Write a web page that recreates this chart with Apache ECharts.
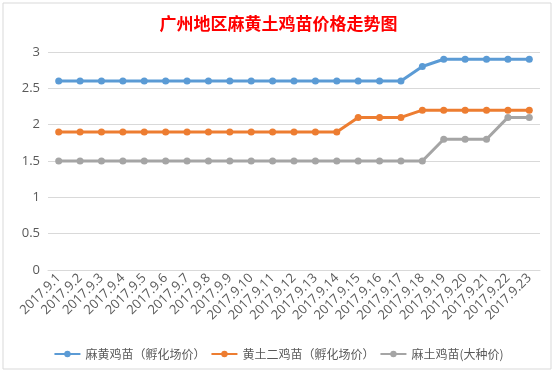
<!DOCTYPE html>
<html><head><meta charset="utf-8">
<script src="https://cdn.jsdelivr.net/npm/echarts@6/dist/echarts.min.js"></script>
<style>html,body{margin:0;padding:0;background:#fff}#c{width:557px;height:377px}</style>
</head><body><div id="c"></div>
<script>
const categories = ['2017.9.1','2017.9.2','2017.9.3','2017.9.4','2017.9.5','2017.9.6','2017.9.7','2017.9.8','2017.9.9','2017.9.10','2017.9.11','2017.9.12','2017.9.13','2017.9.14','2017.9.15','2017.9.16','2017.9.17','2017.9.18','2017.9.19','2017.9.20','2017.9.21','2017.9.22','2017.9.23'];
const mahuang = [2.6,2.6,2.6,2.6,2.6,2.6,2.6,2.6,2.6,2.6,2.6,2.6,2.6,2.6,2.6,2.6,2.6,2.8,2.9,2.9,2.9,2.9,2.9];
const huangtu = [1.9,1.9,1.9,1.9,1.9,1.9,1.9,1.9,1.9,1.9,1.9,1.9,1.9,1.9,2.1,2.1,2.1,2.2,2.2,2.2,2.2,2.2,2.2];
const matu = [1.5,1.5,1.5,1.5,1.5,1.5,1.5,1.5,1.5,1.5,1.5,1.5,1.5,1.5,1.5,1.5,1.5,1.5,1.8,1.8,1.8,2.1,2.1];
const seriesNames = ['麻黄鸡苗（孵化场价）','黄土二鸡苗（孵化场价）','麻土鸡苗(大种价)'];
const colors = ['#5B9BD5','#ED7D31','#A5A5A5'];
const chart = echarts.init(document.getElementById('c'));
const mk = (name, data, color) => ({
  name, type:'line', data, symbol:'circle', symbolSize:7,
  itemStyle:{color}, lineStyle:{color, width:3}
});
chart.setOption({
  animation:false,
  color: colors,
  graphic:[{type:'rect', shape:{x:3,y:3,width:548,height:366}, style:{fill:'none', stroke:'#D9D9D9', lineWidth:1}, silent:true}],
  title:{text:'广州地区麻黄土鸡苗价格走势图', left:'center', top:10,
    textStyle:{color:'#FF0000', fontSize:17, fontWeight:'bold', fontFamily:'Noto Sans CJK SC'}},
  grid:{left:48, right:17, top:52, bottom:107, containLabel:false},
  legend:{bottom:12, left:'center', itemWidth:26, itemHeight:8, itemGap:5,
    textStyle:{color:'#595959', fontSize:12, fontFamily:'Noto Sans CJK SC'},
    data: seriesNames},
  xAxis:{type:'category', data:categories, boundaryGap:true,
    axisLine:{lineStyle:{color:'#D9D9D9'}}, axisTick:{show:false},
    axisLabel:{rotate:45, interval:0, color:'#595959', fontSize:13, fontFamily:'Open Sans', margin:6}},
  yAxis:{type:'value', min:0, max:3, interval:0.5,
    axisLine:{show:false}, axisTick:{show:false},
    splitLine:{lineStyle:{color:'#D9D9D9'}},
    axisLabel:{color:'#595959', fontSize:13, fontFamily:'Open Sans', margin:8}},
  series:[mk(seriesNames[0], mahuang, colors[0]), mk(seriesNames[1], huangtu, colors[1]), mk(seriesNames[2], matu, colors[2])]
});
</script></body></html>
